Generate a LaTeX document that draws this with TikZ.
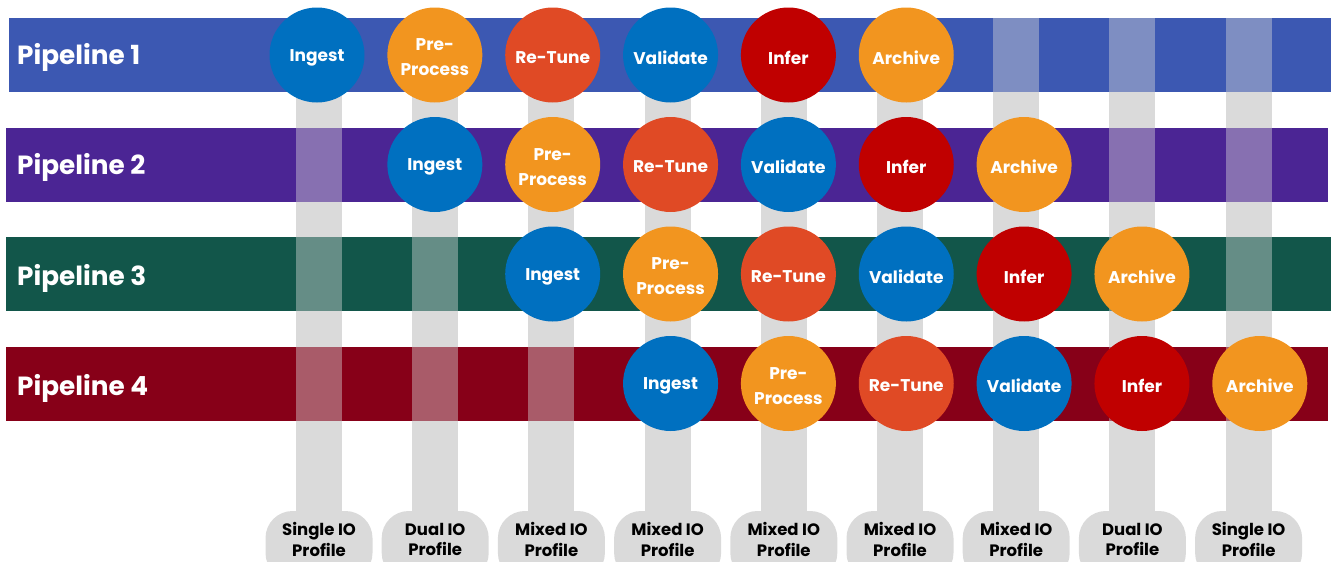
\documentclass[tikz,border=0pt]{standalone}
\usepackage{fontspec}
\setmainfont{Poppins}
\definecolor{colgray}{HTML}{DADADA}
\definecolor{bandA}{HTML}{3C58B2}
\definecolor{bandB}{HTML}{4B2594}
\definecolor{bandC}{HTML}{12564A}
\definecolor{bandD}{HTML}{870018}
\definecolor{cblue}{HTML}{0070C0}
\definecolor{corange}{HTML}{F2951F}
\definecolor{cretune}{HTML}{E04A25}
\definecolor{cinfer}{HTML}{C00000}
\tikzset{
  stage/.style={circle, minimum size=95pt, inner sep=0pt},
  stagetext/.style={inner sep=0pt, text=white, align=center,
    font=\bfseries\fontsize{17}{25}\selectfont},
  bandlabel/.style={anchor=west, text=white, inner sep=0pt, font=\bfseries\fontsize{26.3}{30}\selectfont},
  pilltext/.style={align=center, inner sep=0pt, text=black, font=\bfseries\fontsize{16.5}{20.5}\selectfont},
}
\begin{document}
\begin{tikzpicture}[x=1pt,y=-1pt]
\useasboundingbox (0,0) rectangle (1331,562);
\clip (0,0) rectangle (1331,562);
% columns and profile pills
\foreach \k/\lab in {1/{Single IO\\Profile},2/{Dual IO\\Profile},3/{Mixed IO\\Profile},4/{Mixed IO\\Profile},5/{Mixed IO\\Profile},6/{Mixed IO\\Profile},7/{Mixed IO\\Profile},8/{Dual IO\\Profile},9/{Single IO\\Profile}}{
  \pgfmathsetmacro\xx{319+116.2*(\k-1)}
  \fill[colgray] (\xx-23,18) rectangle (\xx+23,530);
  \fill[colgray, rounded corners=27pt] (\xx-53.5,511) rectangle (\xx+53.5,580);
  \node[pilltext] (p\k) at (\xx,539.5) {\lab};
}
% bands
\fill[bandA] (9,18) rectangle (1331,92);
\fill[bandB] (6,128) rectangle (1328,202);
\fill[bandC] (6,237) rectangle (1331,311);
\fill[bandD] (6,347) rectangle (1328,421);
% translucent column overlay on bands
\foreach \k in {1,...,9}{
  \pgfmathsetmacro\xx{319+116.2*(\k-1)}
  \fill[colgray, opacity=0.42] (\xx-23,18) rectangle (\xx+23,421);
}
% band labels
\node[bandlabel] (l1) at (17,57.5) {Pipeline 1};
\node[bandlabel] (l2) at (17,167.5) {Pipeline 2};
\node[bandlabel] (l3) at (17,278) {Pipeline 3};
\node[bandlabel] (l4) at (17,388) {Pipeline 4};
% stages
\foreach \r in {1,...,4}{
  \foreach \lab/\col [count=\k] in {Ingest/cblue,{Pre-\\Process}/corange,Re-Tune/cretune,Validate/cblue,Infer/cinfer,Archive/corange}{
    \pgfmathsetmacro\xx{317+117.85*(\r+\k-2)}
    \pgfmathsetmacro\yy{55+109.5*(\r-1)}
    \node[stage, fill=\col] (s\r\k) at (\xx,\yy) {};
    \node[stagetext] (t\r\k) at (\xx,\yy+2.5) {\lab};
  }
}
\end{tikzpicture}
\end{document}
